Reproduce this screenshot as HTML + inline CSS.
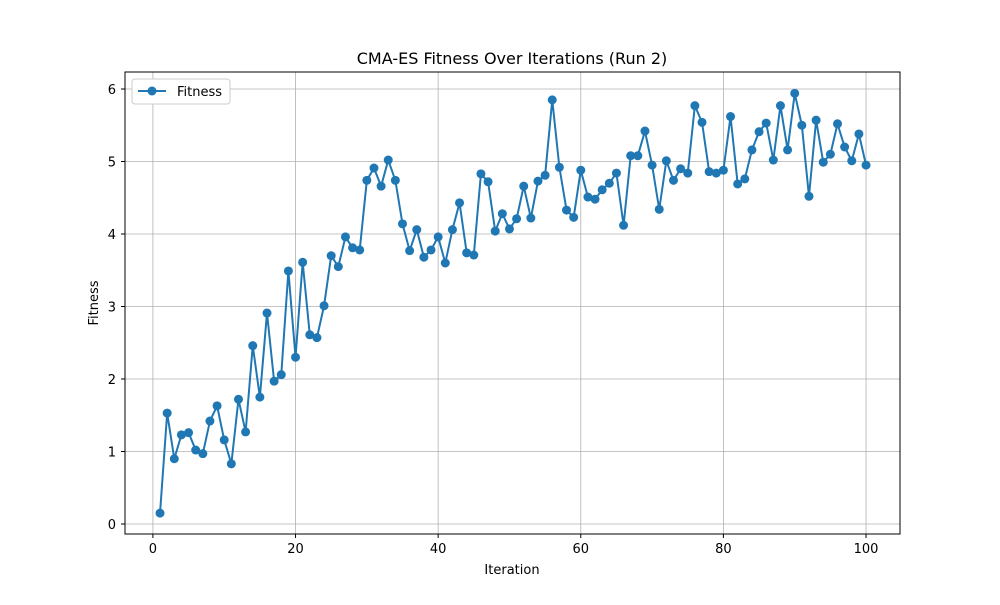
<!DOCTYPE html>
<html><head><meta charset="utf-8"><style>
body{margin:0;background:#fff;font-family:"Liberation Sans","DejaVu Sans",sans-serif}
svg text{font-family:"DejaVu Sans","Liberation Sans",sans-serif}
</style></head><body>
<svg id="chart" width="1000" height="600" viewBox="0 0 1000 600">
<rect width="1000" height="600" fill="#fff"/>
<g id="grid"></g><g id="axes"></g><g id="series"></g>
<rect x="125" y="72" width="775" height="462" fill="none" stroke="#000" stroke-width="1"/>
<text x="512" y="64" font-size="16" text-anchor="middle">CMA-ES Fitness Over Iterations (Run 2)</text>
<text x="512" y="574" font-size="13" text-anchor="middle">Iteration</text>
<text x="98" y="303" font-size="13" text-anchor="middle" transform="rotate(-90 98 303)">Fitness</text>
<g>
<rect x="132" y="79" width="98" height="25" fill="#fff" stroke="#ccc" rx="3"/>
<line x1="138" y1="91" x2="166" y2="91" stroke="#1f77b4" stroke-width="2"/>
<circle cx="152" cy="91" r="4.5" fill="#1f77b4"/>
<text x="177" y="96" font-size="13">Fitness</text>
</g>
</svg>
<script>
const fitness=[0.15,1.53,0.9,1.23,1.26,1.02,0.97,1.42,1.63,1.16,0.83,1.72,1.27,2.46,1.75,2.91,1.97,2.06,3.49,2.30,3.61,2.61,2.57,3.01,3.70,3.55,3.96,3.81,3.78,4.74,4.91,4.66,5.02,4.74,4.14,3.77,4.06,3.68,3.78,3.96,3.60,4.06,4.43,3.74,3.71,4.83,4.72,4.04,4.28,4.07,4.21,4.66,4.22,4.73,4.81,5.85,4.92,4.33,4.23,4.88,4.51,4.48,4.61,4.70,4.84,4.12,5.08,5.08,5.42,4.95,4.34,5.01,4.74,4.90,4.84,5.77,5.54,4.86,4.84,4.88,5.62,4.69,4.76,5.16,5.41,5.53,5.02,5.77,5.16,5.94,5.50,4.52,5.57,4.99,5.10,5.52,5.20,5.01,5.38,4.95];
const xTicks=[0,20,40,60,80,100];
const yTicks=[0,1,2,3,4,5,6];
const NS="http://www.w3.org/2000/svg";
function X(v){return 152.9+v*7.1313;}
function Y(v){return 524-v*72.5;}
function mk(tag,attrs,parent){const e=document.createElementNS(NS,tag);for(const k in attrs)e.setAttribute(k,attrs[k]);parent.appendChild(e);return e;}
const grid=document.getElementById('grid'),axes=document.getElementById('axes'),ser=document.getElementById('series');
xTicks.forEach(t=>{const x=X(t);
 const g=mk('line',{x1:x,x2:x,y1:72,y2:534,stroke:'#b0b0b0','stroke-width':0.8},grid);
 
 
 mk('line',{x1:x,x2:x,y1:534,y2:538,stroke:'#000'},axes);
 const tx=mk('text',{x:x,y:553,'font-size':13,'text-anchor':'middle'},axes);tx.textContent=t;
 
 
});
yTicks.forEach(t=>{const y=Y(t);
 const g=mk('line',{x1:125,x2:900,y1:y,y2:y,stroke:'#b0b0b0','stroke-width':0.8},grid);
 
 
 mk('line',{x1:121,x2:125,y1:y,y2:y,stroke:'#000'},axes);
 const tx=mk('text',{x:116,y:y+5,'font-size':13,'text-anchor':'end'},axes);tx.textContent=t;
 
 
});
const pts=fitness.map((v,i)=>X(i+1).toFixed(2)+','+Y(v).toFixed(2)).join(' ');
const pl=mk('polyline',{points:pts,fill:'none',stroke:'#1f77b4','stroke-width':2},ser);


fitness.forEach((v,i)=>{const c=mk('circle',{cx:X(i+1),cy:Y(v),r:4.5,fill:'#1f77b4'},ser);
 
 
});
</script>
</body></html>
